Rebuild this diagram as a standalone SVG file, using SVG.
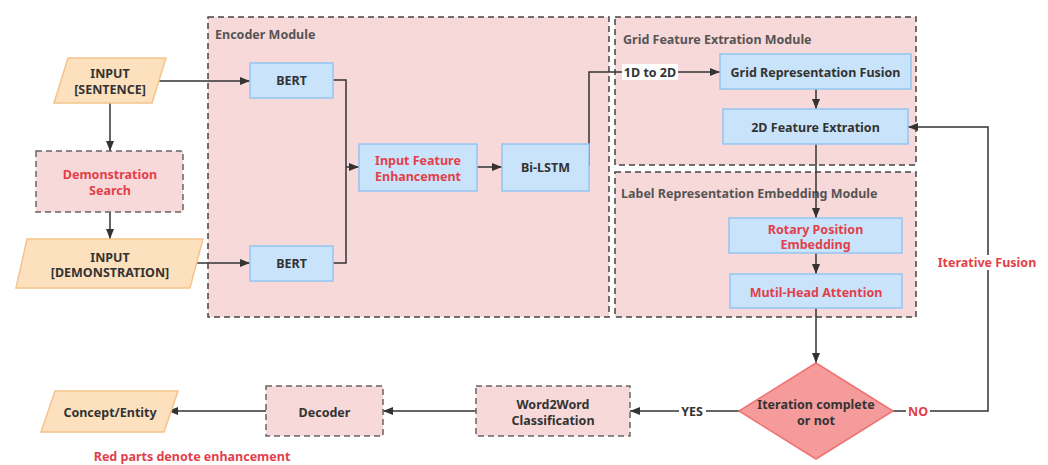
<svg xmlns="http://www.w3.org/2000/svg" width="1048" height="465" viewBox="0 0 1048 465">
<defs>
<marker id="arr" viewBox="0 0 10 10" refX="10" refY="5" markerWidth="10" markerHeight="10" markerUnits="userSpaceOnUse" orient="auto">
<path d="M0,1 L10,5 L0,9 Z" fill="#333"/>
</marker>
<style>
text{font-family:"Noto Sans","Open Sans","Liberation Sans",sans-serif;font-weight:bold;font-size:12.5px;text-anchor:middle;dominant-baseline:central;fill:#333}
.red{fill:#e23f4a}
.title{fill:#555;text-anchor:start;font-size:12.5px}
.mod{fill:#f8d9d9;stroke:#444;stroke-width:1.5;stroke-dasharray:6 4}
.blue{fill:#c9e3fb;stroke:#93c5f1;stroke-width:1.5}
.para{fill:#fde1bf;stroke:#f4c48c;stroke-width:1.5}
.pink{fill:#f8d9d9;stroke:#666;stroke-width:1.5;stroke-dasharray:6 4}
.ln{fill:none;stroke:#333;stroke-width:1.5}
.lab{fill:#fff}
</style>
</defs>
<rect width="1048" height="465" fill="#fff"/>

<g id="encoder-module">
<rect class="mod" x="208" y="17" width="401" height="300"/>
<text class="title" x="215" y="34">Encoder Module</text>
</g>
<g id="grid-module">
<rect class="mod" x="615" y="17" width="301" height="148"/>
<text class="title" x="623" y="39">Grid Feature Extration Module</text>
</g>
<g id="label-module">
<rect class="mod" x="615" y="172" width="301" height="145"/>
<text class="title" x="621" y="193">Label Representation Embedding Module</text>
</g>

<g id="connectors">
<path class="ln" d="M158,81 H250" marker-end="url(#arr)"/>
<path class="ln" d="M110,103 V151" marker-end="url(#arr)"/>
<path class="ln" d="M110,212 V239" marker-end="url(#arr)"/>
<path class="ln" d="M197,263 H250" marker-end="url(#arr)"/>
<path class="ln" d="M333,80 H346 V263 H333"/>
<path class="ln" d="M346,167 H359" marker-end="url(#arr)"/>
<path class="ln" d="M477,167 H502" marker-end="url(#arr)"/>
<path class="ln" d="M589,166 V72 H720" marker-end="url(#arr)"/>
<path class="ln" d="M816,89 V109" marker-end="url(#arr)"/>
<path class="ln" d="M816,144 V218" marker-end="url(#arr)"/>
<path class="ln" d="M816,253 V274" marker-end="url(#arr)"/>
<path class="ln" d="M816,308 V363" marker-end="url(#arr)"/>
<path class="ln" d="M893,411 H988 V127 H908" marker-end="url(#arr)"/>
<path class="ln" d="M739,411 H630" marker-end="url(#arr)"/>
<path class="ln" d="M476,411 H383" marker-end="url(#arr)"/>
<path class="ln" d="M266,411 H168" marker-end="url(#arr)"/>
<g id="label-1d2d">
<rect class="lab" x="622" y="64" width="56" height="16"/>
<text x="650" y="72">1D to 2D</text>
</g>
<g id="label-yes">
<rect class="lab" x="679" y="404" width="27" height="15"/>
<text x="692" y="411">YES</text>
</g>
<g id="label-no">
<rect class="lab" x="906" y="404" width="24" height="15"/>
<text class="red" x="918" y="411">NO</text>
</g>
<g id="label-iterative">
<rect class="lab" x="938" y="255" width="98" height="15"/>
<text class="red" x="987" y="262">Iterative Fusion</text>
</g>
</g>

<g id="input-sentence">
<polygon class="para" points="68,58 166,58 152,103 54,103"/>
<text x="110" y="73">INPUT</text>
<text x="110" y="89">[SENTENCE]</text>
</g>
<g id="demo-search">
<rect class="pink" x="36" y="151" width="147" height="61"/>
<text class="red" x="110" y="174">Demonstration</text>
<text class="red" x="110" y="190">Search</text>
</g>
<g id="input-demo">
<polygon class="para" points="27,239 203,239 190,288 16,288"/>
<text x="110" y="257">INPUT</text>
<text x="110" y="272">[DEMONSTRATION]</text>
</g>
<g id="bert-1">
<rect class="blue" x="250" y="63" width="83" height="35"/>
<text x="291.5" y="80.5">BERT</text>
</g>
<g id="bert-2">
<rect class="blue" x="250" y="246" width="83" height="35"/>
<text x="291.5" y="263.5">BERT</text>
</g>
<g id="input-feature">
<rect class="blue" x="359" y="144" width="118" height="47"/>
<text class="red" x="418" y="160">Input Feature</text>
<text class="red" x="418" y="176">Enhancement</text>
</g>
<g id="bilstm">
<rect class="blue" x="502" y="144" width="87" height="47"/>
<text x="545.5" y="167.5">Bi-LSTM</text>
</g>
<g id="grid-fusion">
<rect class="blue" x="720" y="54" width="191" height="35"/>
<text x="815.5" y="72">Grid Representation Fusion</text>
</g>
<g id="feature-2d">
<rect class="blue" x="723" y="109" width="185" height="35"/>
<text x="815.5" y="127">2D Feature Extration</text>
</g>
<g id="rotary">
<rect class="blue" x="729" y="218" width="173" height="35"/>
<text class="red" x="815.5" y="229">Rotary Position</text>
<text class="red" x="815.5" y="244">Embedding</text>
</g>
<g id="mha">
<rect class="blue" x="730" y="274" width="172" height="34"/>
<text class="red" x="816" y="292">Mutil-Head Attention</text>
</g>
<g id="decision">
<polygon points="816,363 893,411 816,459 739,411" fill="#f69b9b" stroke="#ee7272" stroke-width="1.5"/>
<text x="816" y="404">Iteration complete</text>
<text x="816" y="420">or not</text>
</g>
<g id="word2word">
<rect class="pink" x="476" y="386" width="154" height="50"/>
<text x="553" y="404">Word2Word</text>
<text x="553" y="420">Classification</text>
</g>
<g id="decoder">
<rect class="pink" x="266" y="386" width="117" height="50"/>
<text x="324.5" y="412">Decoder</text>
</g>
<g id="concept-entity">
<polygon class="para" points="55,391 178,391 164,432 41,432"/>
<text x="110" y="412">Concept/Entity</text>
</g>
<text class="red" x="192" y="456">Red parts denote enhancement</text>
</svg>
